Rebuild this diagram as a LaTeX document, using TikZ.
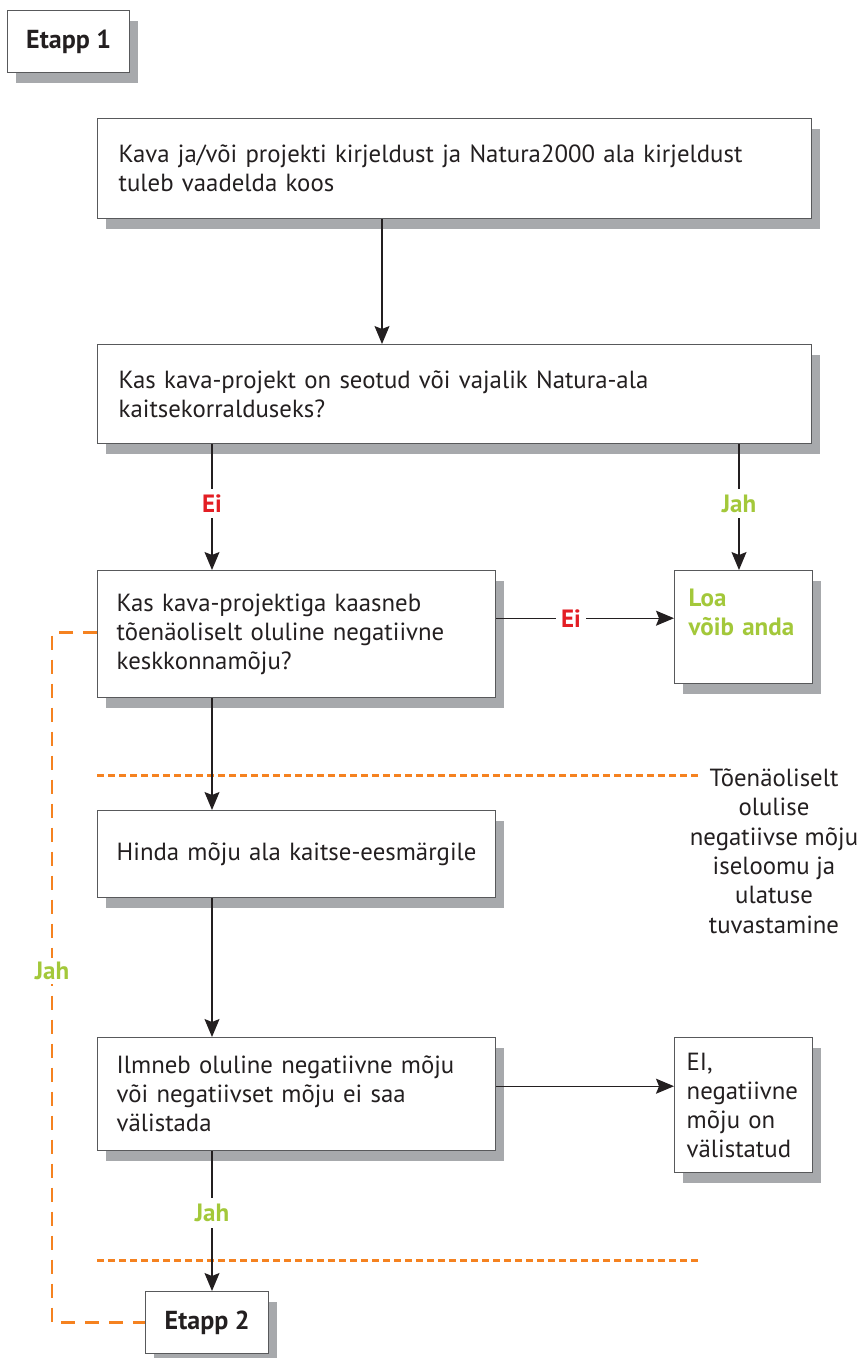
\documentclass[tikz,border=0pt]{standalone}
\usepackage{fontspec}
\setmainfont{PT Sans}
\usetikzlibrary{shadows,arrows.meta,calc}
\definecolor{txt}{HTML}{231F20}
\definecolor{bord}{HTML}{58595B}
\definecolor{shgray}{HTML}{A7A9AC}
\definecolor{okgreen}{HTML}{A3C83A}
\definecolor{nored}{HTML}{E31E24}
\definecolor{orng}{HTML}{F58220}
\tikzset{
  box/.style={draw=bord, line width=1.4pt, fill=white, anchor=north west, align=left,
    text=txt, font=\fontsize{24.8}{29}\selectfont, inner ysep=0pt,
    drop shadow={shadow xshift=8pt, shadow yshift=-10pt, fill=shgray, opacity=1}},
  arr/.style={draw=txt, line width=1.2pt, -{Stealth[length=18pt,width=15pt,inset=3pt]}},
  lbl/.style={fill=white, font=\fontsize{25}{29}\selectfont\bfseries, inner xsep=5pt, inner ysep=6pt},
  dotline/.style={draw=orng, line width=3pt, dash pattern=on 7pt off 4pt},
  dashline/.style={draw=orng, line width=2.5pt, dash pattern=on 14pt off 10pt},
}
\begin{document}
\begin{tikzpicture}[x=1pt,y=-1pt]
\useasboundingbox (0,0) rectangle (863,1358);

\node[box, align=center, inner xsep=0pt, minimum width=122pt, minimum height=62pt, font=\fontsize{26}{29}\selectfont\bfseries] (e1) at (7,10) {Etapp 1};

\node[box, inner xsep=21pt, text width=672pt, minimum height=100pt] (b1) at (97,118)
  {Kava ja/või projekti kirjeldust ja Natura2000 ala kirjeldust\\tuleb vaadelda koos};

\node[box, inner xsep=21pt, text width=672pt, minimum height=99pt] (b2) at (97,344)
  {Kas kava-projekt on seotud või vajalik Natura-ala\\kaitsekorralduseks?};

\node[box, inner xsep=19pt, text width=360pt, minimum height=127pt] (b3) at (97,570)
  {Kas kava-projektiga kaasneb\\tõenäoliselt oluline negatiivne\\keskkonnamõju?};

\node[box, inner xsep=14pt, text width=110pt, minimum height=113pt, text=okgreen, font=\fontsize{25}{29}\selectfont\bfseries] (loa) at (674,570)
  {Loa\\võib anda\\\mbox{}};

\node[box, inner xsep=19pt, text width=360pt, minimum height=87pt] (b4) at (97,810)
  {Hinda mõju ala kaitse-eesmärgile};

\node[box, inner xsep=19pt, text width=360pt, minimum height=113pt] (b5) at (97,1037)
  {Ilmneb oluline negatiivne mõju\\või negatiivset mõju ei saa\\välistada};

\node[box, inner xsep=12pt, text width=114pt, minimum height=135pt] (ei) at (674,1037)
  {EI,\\negatiivne\\mõju on\\välistatud};

\node[box, align=center, inner xsep=0pt, minimum width=123pt, minimum height=62pt, font=\fontsize{26}{29}\selectfont\bfseries] (e2) at (145,1291) {Etapp 2};

\node[align=center, text=txt, font=\fontsize{24.8}{29.4}\selectfont, inner sep=0pt] (side) at (774,851)
  {Tõenäoliselt\\olulise\\negatiivse mõju\\iseloomu ja\\ulatuse\\tuvastamine};

% orange horizontal separators
\draw[dotline] (97,775) -- (700,775);
\draw[dotline] (97,1260) -- (700,1260);

% connectors
\draw[arr] ([xshift=285pt]b1.south west) -- ([xshift=285pt]b2.north west);
\draw[arr] ([xshift=115pt]b2.south west) -- node[lbl, text=nored, pos=0.47] (l1) {Ei} ([xshift=115pt]b3.north west);
\draw[arr] ([xshift=642pt]b2.south west) coordinate (j1) -- node[lbl, text=okgreen, pos=0.47] (l2) {Jah} (j1 |- loa.north);
\draw[arr] ([yshift=16pt]b3.east) coordinate (h1) -- node[lbl, text=nored, pos=0.42] (l3) {Ei} (h1 -| loa.west);
\draw[arr] ([xshift=115pt]b3.south west) -- ([xshift=115pt]b4.north west);
\draw[arr] ([xshift=115pt]b4.south west) -- ([xshift=115pt]b5.north west);
\draw[arr] ([yshift=8pt]b5.east) coordinate (h2) -- (h2 -| ei.west);
\draw[arr] ([xshift=115pt]b5.south west) -- node[lbl, text=okgreen, pos=0.44] (l4) {Jah} ([xshift=115pt]b5.south west |- e2.north);

% orange dashed feedback
\draw[dashline] ([yshift=1.5pt]b3.west) -- ++(-45,0) coordinate (c1)
  -- node[lbl, text=okgreen, pos=0.49, inner sep=4pt] (l5) {Jah} (c1 |- e2.west) -- (e2.west);
\end{tikzpicture}
\end{document}
